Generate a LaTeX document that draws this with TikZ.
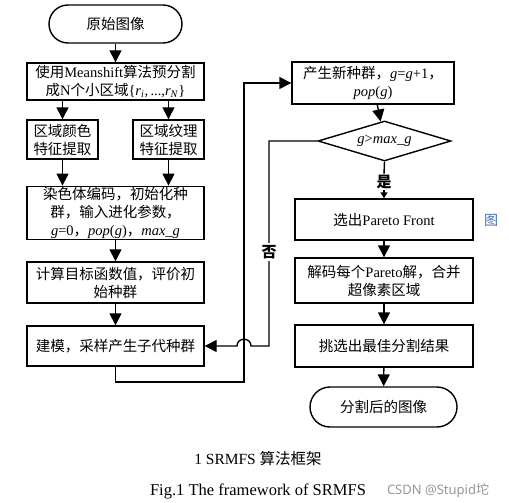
\documentclass[tikz,border=0pt]{standalone}
\usepackage{fontspec}
\setmainfont{Liberation Serif}
\newfontfamily\cjk{Noto Sans CJK SC}
\newfontfamily\wmfont{Noto Sans}
\usetikzlibrary{arrows.meta,shapes.geometric}
\newcommand\C[1]{{\cjk #1}}
\begin{document}
\begin{tikzpicture}[x=1pt,y=-1pt,
  box/.style={draw, line width=1.4pt, align=center, inner sep=1pt,
    font=\fontsize{14.5}{18}\selectfont},
  term/.style={box, rounded corners=19pt},
  arr/.style={line width=1.4pt, -{Triangle[width=12pt,length=12pt]}},
  sarr/.style={line width=1.4pt, -{Triangle[width=7pt,length=6pt]}},
  lbl/.style={inner sep=1pt, font=\fontsize{15}{15}\selectfont\bfseries},
  captext/.style={inner sep=0pt, font=\fontsize{15.5}{17}\selectfont}]
\useasboundingbox (0,0) rectangle (509,503);

% left column
\node[term, minimum width=133pt, minimum height=38pt] (start) at (115.5,24) {\C{原始图像}};
\node[box, minimum width=177pt, minimum height=37pt] (b1) at (115.5,81.5)
  {\C{使用}Meanshift\C{算法预分割}\\\C{成}N\C{个小区域}\{\textit{r}\textsubscript{\textit{i}},\,...,\textit{r}\textsubscript{\textit{N}}\}};
\node[box, minimum width=71pt, minimum height=39pt] (lb) at (62.5,139.5) {\C{区域颜色}\\\C{特征提取}};
\node[box, minimum width=71pt, minimum height=39pt] (rb) at (168.5,139.5) {\C{区域纹理}\\\C{特征提取}};
\node[box, minimum width=177pt, minimum height=52pt] (b3) at (115.5,213)
  {\C{染色体编码，初始化种}\\\C{群，输入进化参数，}\\\textit{g}=0\C{，}\textit{pop}(\textit{g})\C{，}\textit{max\_g}};
\node[box, minimum width=177pt, minimum height=41pt] (b4) at (115.5,282.5)
  {\C{计算目标函数值，评价初}\\\C{始种群}};
\node[box, minimum width=177pt, minimum height=40pt] (b5) at (115.5,346)
  {\C{建模，采样产生子代种群}};

% right column
\node[box, minimum width=162pt, minimum height=42pt] (b6) at (373,83)
  {\C{产生新种群，}\textit{g}=\textit{g}+1\C{，}\\\textit{pop}(\textit{g})};
\node[box, diamond, aspect=3.3, inner sep=0pt, minimum width=133pt, minimum height=40pt] (dia) at (384.5,141)
  {\textit{g}>\textit{max\_g}};
\node[box, minimum width=178pt, minimum height=41pt] (b7) at (384,219.5) {\C{选出}Pareto Front};
\node[box, minimum width=178pt, minimum height=45pt] (b8) at (384,280.5)
  {\C{解码每个}Pareto\C{解，合并}\\\C{超像素区域}};
\node[box, minimum width=178pt, minimum height=42pt] (b9) at (384,346) {\C{挑选出最佳分割结果}};
\node[term, rounded corners=20pt, minimum width=147pt, minimum height=40pt] (end) at (383.5,407) {\C{分割后的图像}};

% arrows left
\draw[arr] (start) -- (b1);
\draw[arr] (lb.north |- b1.south) -- (lb.north);
\draw[arr] (rb.north |- b1.south) -- (rb.north);
\draw[arr] (lb.south) -- (lb.south |- b3.north);
\draw[arr] (rb.south) -- (rb.south |- b3.north);
\draw[arr] (b3) -- (b4);
\draw[arr] (b4) -- (b5);

% loop back
\coordinate (c1) at (244,382);
\draw[arr] (b5.south) |- (c1) |- (b6.west);

% right arrows
\draw[arr] (b6) -- (dia);
\node[lbl] (yes) at (384,182) {\C{是}};
\draw[line width=1.4pt] (dia.south) -- (yes.north);
\draw[sarr] (yes.south) -- (b7.north);
\draw[arr] (b7) -- (b8);
\draw[arr] (b8) -- (b9);
\draw[arr] (b9) -- (end);

% no branch
\coordinate (n1) at (269,346);
\coordinate (h1) at (251,346);
\coordinate (h2) at (237,346);
\draw[arr] (dia.west) -| (n1) -- (h1) .. controls (251,337) and (237,337) .. (h2) -- (b5.east);
\node[lbl, fill=white, inner sep=2pt] (no) at (269,252) {\C{否}};

% stray char and captions
\node[inner sep=0pt, text={rgb,255:red,70;green,110;blue,180}, font=\fontsize{14}{14}\selectfont] (tu) at (491,220) {\C{图}};
\node[captext] (cap1) at (258,459) {1 SRMFS \C{算法框架}};
\node[captext, font=\fontsize{16.5}{19}\selectfont] (cap2) at (258,491) {Fig.1 The framework of SRMFS};
\node[inner sep=0pt, text={rgb,255:red,150;green,150;blue,150}, font=\fontsize{13}{13}\selectfont\wmfont] (wm) at (438,491) {CSDN @Stupid\C{坨}};
\end{tikzpicture}
\end{document}
